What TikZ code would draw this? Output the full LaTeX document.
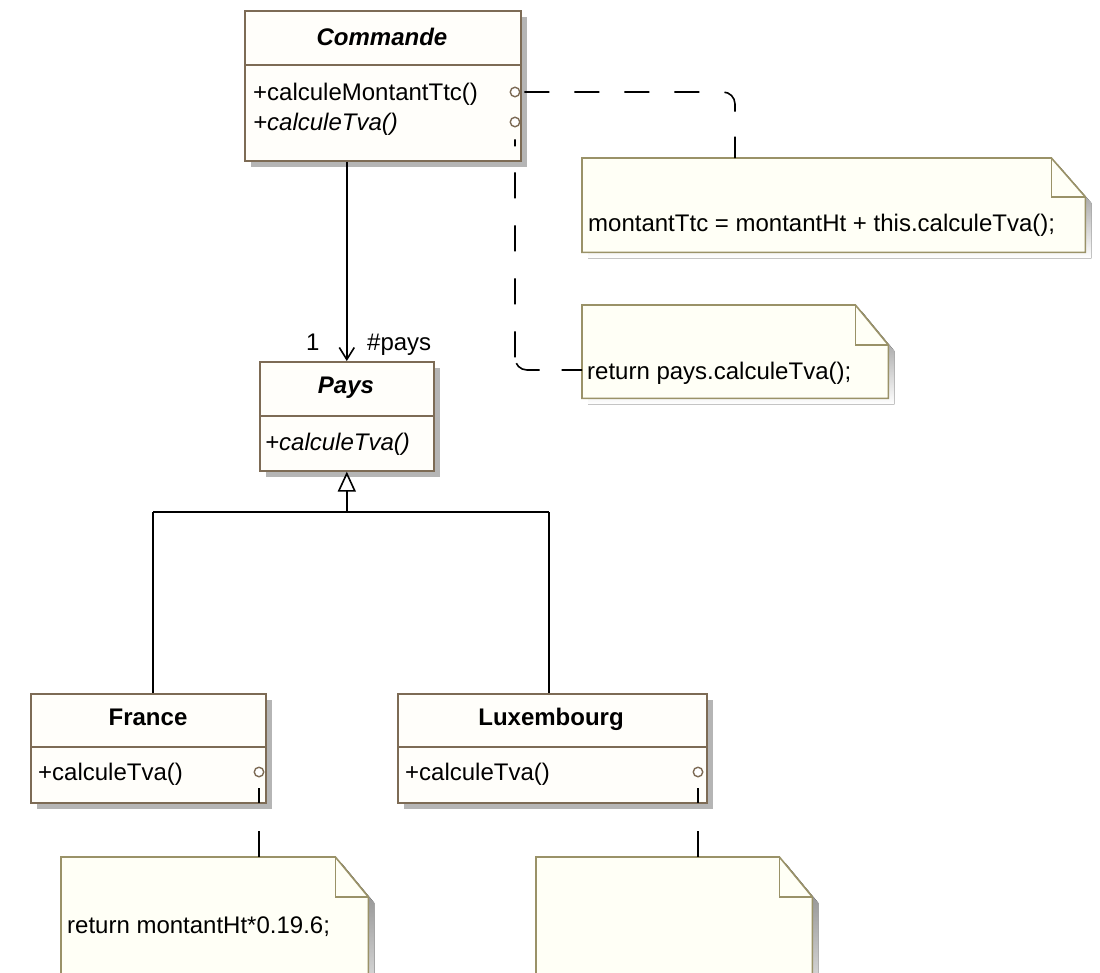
\documentclass[tikz,border=0pt]{standalone}
\usepackage{fontspec}
\setmainfont{Liberation Sans}
\usetikzlibrary{arrows.meta,calc,shadows}

\definecolor{boxline}{HTML}{7D6B55}
\definecolor{boxfill}{HTML}{FFFEFA}
\definecolor{noteline}{HTML}{9A9268}
\definecolor{notefill}{HTML}{FFFFF6}
\definecolor{shade}{HTML}{B5B5B5}

% UML note with a dog-eared corner, drawn over an invisible named node
\newcommand{\umlnote}[3]{% name, fold width, fold height
  \fill[shade] ($(#1.north west)+(6,6)$) -- ($(#1.north east)+(-#2+6,6)$)
    -- ($(#1.north east)+(6,#3+6)$) -- ($(#1.south east)+(6,6)$)
    -- ($(#1.south west)+(6,6)$) -- cycle;
  \filldraw[notebox] (#1.north west) -- ($(#1.north east)+(-#2,0)$)
    -- ($(#1.north east)+(0,#3)$) -- (#1.south east)
    -- (#1.south west) -- cycle;
  \draw[notebox, fill=none] ($(#1.north east)+(-#2,0)$) -- ++(0,#3) -- ($(#1.north east)+(0,#3)$);
}

\begin{document}
\begin{tikzpicture}[x=1pt, y=-1pt,
  font=\fontsize{24}{28}\selectfont,
  classbox/.style={draw=boxline, fill=boxfill, line width=1.6pt, rectangle,
    inner sep=0pt, anchor=north west,
    drop shadow={shadow xshift=6pt, shadow yshift=-6pt, fill=shade, opacity=1}},
  sepline/.style={draw=boxline, line width=1.6pt},
  clsname/.style={anchor=base, inner sep=0pt, font=\fontsize{24}{28}\selectfont\bfseries},
  meth/.style={anchor=base west, inner sep=0pt},
  port/.style={circle, draw=boxline, fill=white, line width=1.4pt, minimum size=9.5pt, inner sep=0pt},
  notenode/.style={rectangle, inner sep=0pt, anchor=north west},
  notebox/.style={draw=noteline, fill=notefill, line width=1.6pt, line join=miter},
  notetext/.style={anchor=base west, inner sep=0pt},
  link/.style={line width=1.6pt, black},
  role/.style={anchor=base west, inner sep=0pt}
]
\useasboundingbox (0,0) rectangle (1100,972);
\fill[white] (0,0) rectangle (1100,972);
\clip (0,0) rectangle (1100,972);

% ---- class Commande ----
\node[classbox, minimum width=276pt, minimum height=150pt] (commande) at (244,10) {};
\draw[sepline] ($(commande.north west)+(0,55)$) -- ($(commande.north east)+(0,55)$);
\node[clsname, font=\fontsize{24}{28}\selectfont\bfseries\itshape] (commandeName) at (382,45) {Commande};
\node[meth] (cmTtc) at (253,100) {+calculeMontantTtc()};
\node[meth, font=\fontsize{24}{28}\selectfont\itshape] (cmTva) at (253,130) {+calculeTva()};
\node[port] (cmPortA) at (515,92) {};
\node[port] (cmPortB) at (515,122) {};

% ---- class Pays ----
\node[classbox, minimum width=174pt, minimum height=109pt] (pays) at (259,361) {};
\draw[sepline] ($(pays.north west)+(0,55)$) -- ($(pays.north east)+(0,55)$);
\node[clsname, font=\fontsize{24}{28}\selectfont\bfseries\itshape] (paysName) at (346,393) {Pays};
\node[meth, font=\fontsize{24}{28}\selectfont\itshape] (paysTva) at (265,450) {+calculeTva()};

% ---- class France ----
\node[classbox, minimum width=235pt, minimum height=109pt] (france) at (30,693) {};
\draw[sepline] ($(france.north west)+(0,54)$) -- ($(france.north east)+(0,54)$);
\node[clsname] (franceName) at (148,725) {France};
\node[meth] (frTva) at (38,780) {+calculeTva()};
\node[port] (frPort) at (259,772) {};

% ---- class Luxembourg ----
\node[classbox, minimum width=309pt, minimum height=109pt] (lux) at (397,693) {};
\draw[sepline] ($(lux.north west)+(0,54)$) -- ($(lux.north east)+(0,54)$);
\node[clsname] (luxName) at (551,725) {Luxembourg};
\node[meth] (luxTva) at (405,780) {+calculeTva()};
\node[port] (luxPort) at (698,772) {};

% ---- notes ----
\node[notenode, minimum width=503pt, minimum height=94pt] (noteTtc) at (582,158) {};
\umlnote{noteTtc}{34}{39}
\node[notetext] (noteTtcText) at (588,231) {montantTtc = montantHt + this.calculeTva();};

\node[notenode, minimum width=306pt, minimum height=93pt] (noteTva) at (582,305) {};
\umlnote{noteTva}{33}{40}
\node[notetext] (noteTvaText) at (587,379) {return pays.calculeTva();};

\node[notenode, minimum width=307pt, minimum height=170pt] (noteFr) at (61,857) {};
\umlnote{noteFr}{33}{40}
\node[notetext] (noteFrText) at (67,933) {return montantHt*0.19.6;};

\node[notenode, minimum width=276pt, minimum height=170pt] (noteLux) at (536,857) {};
\umlnote{noteLux}{33}{40}

% ---- association Commande -> Pays ----
\draw[link, -{Straight Barb[length=12pt, width=15pt]}]
  (commande.south -| pays.north) -- (pays.north);
\node[role] (multOne) at (306,350) {1};
\node[role] (rolePays) at (367,350) {\#pays};

% ---- generalisation France, Luxembourg -> Pays ----
\coordinate (genL) at (153,512);
\coordinate (genR) at (549,512);
\coordinate (genM) at (pays.south |- genL);
\draw[link] (genL) -- (genR);
\draw[link] (genL) -- (genL |- france.north);
\draw[link] (genR) -- (genR |- lux.north);
\draw[link, -{Triangle[open, length=20pt, width=18pt]}] (genM) -- (pays.south);

% ---- note attachments ----
\coordinate (noteTtcIn) at (735,158);
\coordinate (noteTvaIn) at (582,370);
\draw[link, rounded corners=12pt, shorten <=4pt, dash pattern=on 25pt off 25pt]
  (cmPortA.east) -| (noteTtcIn);
\draw[link, rounded corners=12pt, shorten <=12pt,
  dash pattern=on 7pt off 26pt on 26pt off 27pt on 26pt off 27pt on 26pt off 27pt on 26pt off 6pt on 26pt off 22pt on 22pt off 60pt]
  (cmPortB.south) |- (noteTvaIn);
\draw[link, shorten <=11pt, dash pattern=on 15pt off 28pt on 30pt off 30pt]
  (frPort.south) -- (frPort.south |- noteFr.north);
\draw[link, shorten <=11pt, dash pattern=on 15pt off 28pt on 30pt off 30pt]
  (luxPort.south) -- (luxPort.south |- noteLux.north);
\end{tikzpicture}
\end{document}
